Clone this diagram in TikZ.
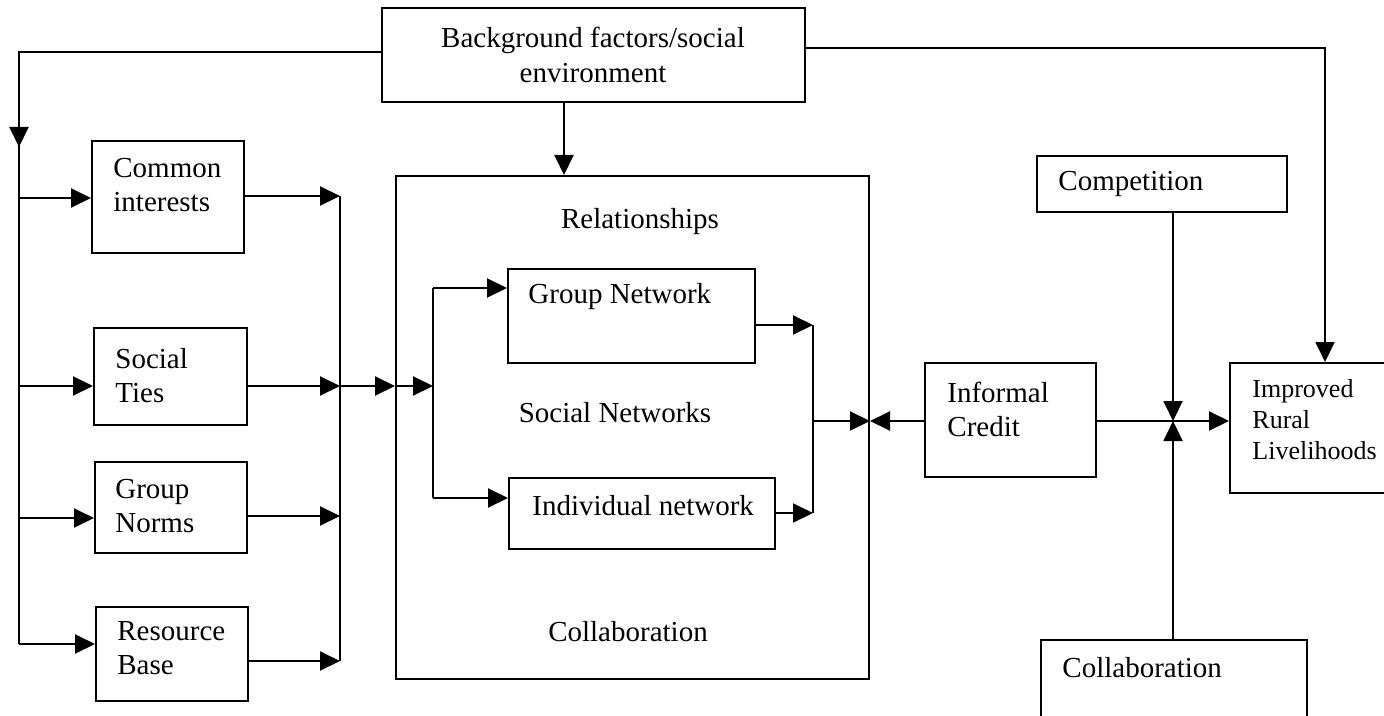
\documentclass[tikz,border=0pt]{standalone}
\usepackage{fontspec}
\setmainfont{Liberation Serif}
\usetikzlibrary{arrows.meta,fit}
\begin{document}
\begin{tikzpicture}[x=0.5pt,y=-0.5pt,
  box/.style={draw, line width=1pt, inner sep=0pt, rectangle},
  lbl/.style={inner sep=0pt, align=left, font=\fontsize{14.5}{17}\selectfont},
  ln/.style={line width=1pt},
  arr/.style={line width=1pt, -{Triangle[length=10pt,width=9.5pt]}},
]
\useasboundingbox (0,0) rectangle (1384,716);

% boxes
\node[box, fit={(382,8) (805,102)}] (bg) {};
\node[lbl, align=center, font=\fontsize{14.5}{17.5}\selectfont] (bgT) at (593,55) {Background factors/social\\environment};

\node[box, fit={(92,141) (244,253)}] (ci) {};
\node[lbl, anchor=west] (ciT) at (113,185) {Common\\interests};
\node[box, fit={(94,328) (247,425)}] (st) {};
\node[lbl, anchor=west] (stT) at (115,376) {Social\\Ties};
\node[box, fit={(95,462) (247,553)}] (gn) {};
\node[lbl, anchor=west] (gnT) at (115,506) {Group\\Norms};
\node[box, fit={(96,607) (248,701)}] (rb) {};
\node[lbl, anchor=west] (rbT) at (117,648) {Resource\\Base};

\node[box, fit={(396,176) (869,679)}] (rel) {};
\node[lbl] (relT) at (640,222) {Relationships};
\node[lbl] (snT) at (615,413) {Social Networks};
\node[lbl] (colT) at (628,632) {Collaboration};

\node[box, fit={(508,269) (755,363)}] (gnw) {};
\node[lbl, anchor=west] (gnwT) at (528,297) {Group Network};
\node[box, fit={(509,478) (775,549)}] (inw) {};
\node[lbl, anchor=west] (inwT) at (532,506) {Individual network};

\node[box, fit={(925,363) (1096,477)}] (ic) {};
\node[lbl, anchor=west] (icT) at (947,409) {Informal\\Credit};

\node[box, fit={(1037,156) (1287,212)}] (comp) {};
\node[lbl, anchor=west] (compT) at (1058,184) {Competition};

\node[box, fit={(1041,640) (1307,740)}] (coll) {};
\node[lbl, anchor=west] (collT) at (1062,668) {Collaboration};

\node[box, fit={(1230,363) (1395,493)}] (irl) {};
\node[lbl, anchor=west, font=\fontsize{13}{15.5}\selectfont] (irlT) at (1252,420) {Improved\\Rural\\Livelihoods};

% left distribution line
\coordinate (L0) at (19,52);
\coordinate (Lci) at (19,198);
\coordinate (Lst) at (19,386);
\coordinate (Lgn) at (19,518);
\coordinate (Lrb) at (19,644);
\coordinate (Lar) at (19,110);
\coordinate (Lat) at (19,147);
\draw[ln] (bg.west |- L0) -- (L0) -- (Lrb);
\draw[arr] (Lar) -- (Lat);
\draw[arr] (Lci) -- (ci.west |- Lci);
\draw[arr] (Lst) -- (st.west |- Lst);
\draw[arr] (Lgn) -- (gn.west |- Lgn);
\draw[arr] (Lrb) -- (rb.west |- Lrb);

% right collecting bus
\coordinate (B1) at (340,196);
\coordinate (B2) at (340,386);
\coordinate (B3) at (340,516);
\coordinate (B4) at (340,661);
\draw[ln] (B1) -- (B4);
\draw[arr] (ci.east |- B1) -- (B1);
\draw[arr] (st.east |- B2) -- (B2);
\draw[arr] (gn.east |- B3) -- (B3);
\draw[arr] (rb.east |- B4) -- (B4);
\draw[arr] (B2) -- (rel.west |- B2);

% inner split bus
\coordinate (G0) at (433,386);
\coordinate (G1) at (433,288);
\coordinate (G2) at (433,498);
\draw[arr] (rel.west |- B2) -- (G0);
\draw[ln] (G1) -- (G2);
\draw[arr] (G1) -- (gnw.west |- G1);
\draw[arr] (G2) -- (inw.west |- G2);

% inner join bus
\coordinate (O0) at (813,421);
\coordinate (O1) at (813,325);
\coordinate (O2) at (813,513);
\draw[ln] (O1) -- (O2);
\draw[arr] (gnw.east |- O1) -- (O1);
\draw[arr] (inw.east |- O2) -- (O2);
\draw[arr] (O0) -- (rel.east |- O0);
\draw[arr] (ic.west |- O0) -- (rel.east |- O0);

% background to relationships
\coordinate (T0) at (564,102);
\draw[arr] (bg.south -| T0) -- (rel.north -| T0);

% right part
\coordinate (J) at (1173,421);
\draw[ln] (ic.east |- J) -- (J);
\draw[arr] (J) -- (irl.west |- J);
\draw[arr] (comp.south -| J) -- (J);
\draw[arr] (coll.north -| J) -- (J);

\coordinate (R0) at (1325,48);
\draw[arr] (bg.east |- R0) -- (R0) -- (irl.north -| R0);
\end{tikzpicture}
\end{document}
